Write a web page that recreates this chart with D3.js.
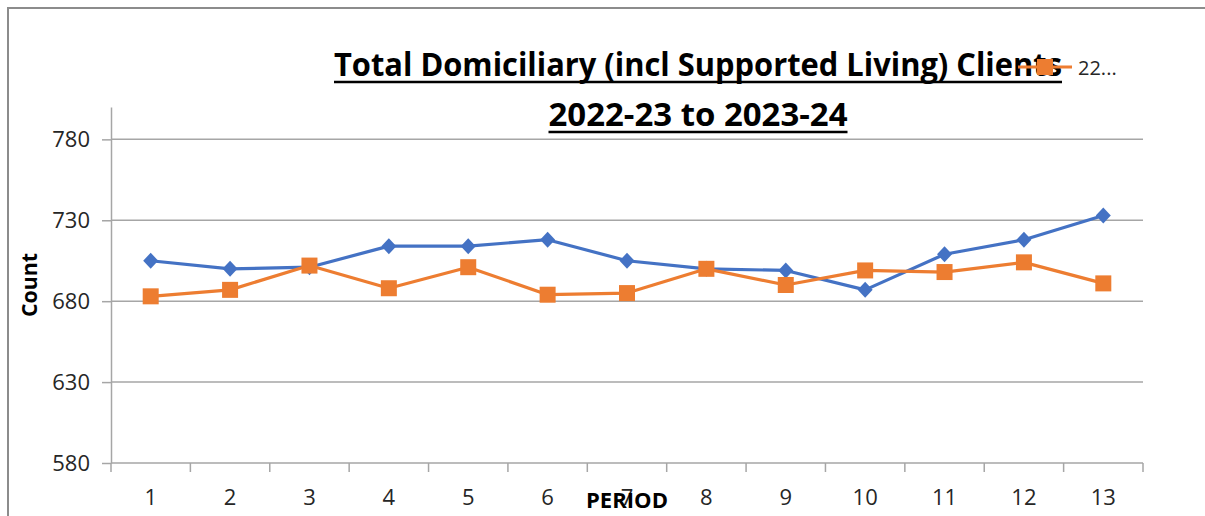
<!DOCTYPE html>
<html>
<head>
<meta charset="utf-8">
<script src="https://cdn.jsdelivr.net/npm/d3@7"></script>
<style>
  body { margin: 0; background: #fff; }
  text { font-family: "Open Sans", "Noto Sans", sans-serif; }
</style>
</head>
<body>
<div id="chart"></div>
<script>
// data
var periods = ["1", "2", "3", "4", "5", "6", "7", "8", "9", "10", "11", "12", "13"];
var series2122 = [705, 700, 701, 714, 714, 718, 705, 700, 699, 687, 709, 718, 733];
var series2223 = [683, 687, 702, 688, 701, 684, 685, 700, 690, 699, 698, 704, 691];
var yTicks = [580, 630, 680, 730, 780];
var yDomain = [580, 800];
var titleLines = ["Total Domiciliary (incl Supported Living) Clients", "2022-23 to 2023-24"];
var legendLabel = "22...";

var width = 1205, height = 516;
var margin = {top: 107, right: 62, bottom: 53, left: 111};

var svg = d3.select("#chart")
  .append("svg")
  .attr("width", width)
  .attr("height", height);

// chart area border (only top/left visible in the picture)
svg.append("path")
  .attr("d", "M8,516 L8,8 L1205,8")
  .attr("fill", "none")
  .attr("stroke", "#8c8c8c")
  .attr("stroke-width", 2);

var x = d3.scaleBand()
  .domain(periods)
  .range([margin.left, width - margin.right]);

var y = d3.scaleLinear()
  .domain(yDomain)
  .range([height - margin.bottom, margin.top]);

var cx = function(d) { return x(d) + x.bandwidth() / 2; };

// gridlines
svg.append("g")
  .selectAll("line")
  .data(yTicks.slice(1))
  .enter()
  .append("line")
    .attr("x1", margin.left)
    .attr("x2", width - margin.right)
    .attr("y1", function(d) { return y(d); })
    .attr("y2", function(d) { return y(d); })
    .attr("stroke", "#a6a6a6")
    .attr("stroke-width", 1.5);

// y axis
var yAxis = svg.append("g")
  .attr("transform", "translate(" + margin.left + ",0)")
  .call(d3.axisLeft(y).tickValues(yTicks).tickSize(9).tickPadding(12).tickSizeOuter(0));
yAxis.select(".domain").attr("stroke", "#a6a6a6").attr("stroke-width", 1.5);
yAxis.selectAll(".tick line").attr("stroke", "#a6a6a6").attr("stroke-width", 1.5);
yAxis.selectAll(".tick text")
  .style("font-size", "22px")
  .attr("fill", "#262626");

// x axis: line, boundary ticks, centred labels
var x0 = height - margin.bottom;
svg.append("line")
  .attr("x1", margin.left)
  .attr("x2", width - margin.right)
  .attr("y1", x0)
  .attr("y2", x0)
  .attr("stroke", "#a6a6a6")
  .attr("stroke-width", 1.5);

var bounds = periods.map(function(d) { return x(d); }).concat([x.range()[1]]);
svg.append("g")
  .selectAll("line")
  .data(bounds)
  .enter()
  .append("line")
    .attr("x1", function(d) { return d; })
    .attr("x2", function(d) { return d; })
    .attr("y1", x0)
    .attr("y2", x0 + 9)
    .attr("stroke", "#a6a6a6")
    .attr("stroke-width", 1.5);

svg.append("g")
  .selectAll("text")
  .data(periods)
  .enter()
  .append("text")
    .attr("x", cx)
    .attr("y", 505)
    .attr("text-anchor", "middle")
    .attr("fill", "#262626")
    .style("font-size", "22px")
    .text(function(d) { return d; });

// axis titles
svg.append("text")
  .attr("transform", "translate(37,285) rotate(-90)")
  .attr("text-anchor", "middle")
  .style("font-size", "22px")
  .style("font-weight", "bold")
  .attr("textLength", 64)
  .attr("lengthAdjust", "spacingAndGlyphs")
  .text("Count");

// sits on top of the "7" label, as in the picture
svg.append("text")
  .attr("x", 627)
  .attr("y", 508)
  .attr("text-anchor", "middle")
  .style("font-size", "22px")
  .style("font-weight", "bold")
  .attr("textLength", 82)
  .attr("lengthAdjust", "spacingAndGlyphs")
  .text("PERIOD");

// lines
var line = d3.line()
  .x(function(d, i) { return cx(periods[i]); })
  .y(function(d) { return y(d); });

svg.append("path")
  .datum(series2122)
  .attr("d", line)
  .attr("fill", "none")
  .attr("stroke", "#4472c4")
  .attr("stroke-width", 3.2)
  .attr("stroke-linejoin", "round");

svg.append("g")
  .selectAll("path")
  .data(series2122)
  .enter()
  .append("path")
    .attr("d", "M0,-8 L7.5,0 L0,8 L-7.5,0 Z")
    .attr("transform", function(d, i) { return "translate(" + cx(periods[i]) + "," + y(d) + ")"; })
    .attr("fill", "#4472c4");

svg.append("path")
  .datum(series2223)
  .attr("d", line)
  .attr("fill", "none")
  .attr("stroke", "#ed7d31")
  .attr("stroke-width", 3.2)
  .attr("stroke-linejoin", "round");

svg.append("g")
  .selectAll("rect")
  .data(series2223)
  .enter()
  .append("rect")
    .attr("x", function(d, i) { return cx(periods[i]) - 8; })
    .attr("y", function(d) { return y(d) - 8; })
    .attr("width", 16)
    .attr("height", 16)
    .attr("fill", "#ed7d31");

// title with underlines
var titleY = [76, 126];
var titleW = [728, 299];
titleLines.forEach(function(t, i) {
  svg.append("text")
    .attr("x", 698)
    .attr("y", titleY[i])
    .attr("text-anchor", "middle")
    .style("font-size", "32px")
    .style("font-weight", "bold")
    .attr("textLength", titleW[i])
    .attr("lengthAdjust", "spacingAndGlyphs")
    .attr("fill", "#000")
    .text(t);
  svg.append("line")
    .attr("x1", 698 - titleW[i] / 2)
    .attr("x2", 698 + titleW[i] / 2)
    .attr("y1", titleY[i] + 6)
    .attr("y2", titleY[i] + 6)
    .attr("stroke", "#000")
    .attr("stroke-width", 2.5);
});

// legend (drawn over the title, as in the picture)
var legend = svg.append("g");
legend.append("line")
  .attr("x1", 1018)
  .attr("x2", 1072)
  .attr("y1", 67)
  .attr("y2", 67)
  .attr("stroke", "#ed7d31")
  .attr("stroke-width", 3.2);
legend.append("rect")
  .attr("x", 1037)
  .attr("y", 59)
  .attr("width", 16)
  .attr("height", 16)
  .attr("fill", "#ed7d31");
legend.append("text")
  .attr("x", 1078)
  .attr("y", 75)
  .style("font-size", "20px")
  .attr("fill", "#262626")
  .text(legendLabel);
</script>
</body>
</html>
